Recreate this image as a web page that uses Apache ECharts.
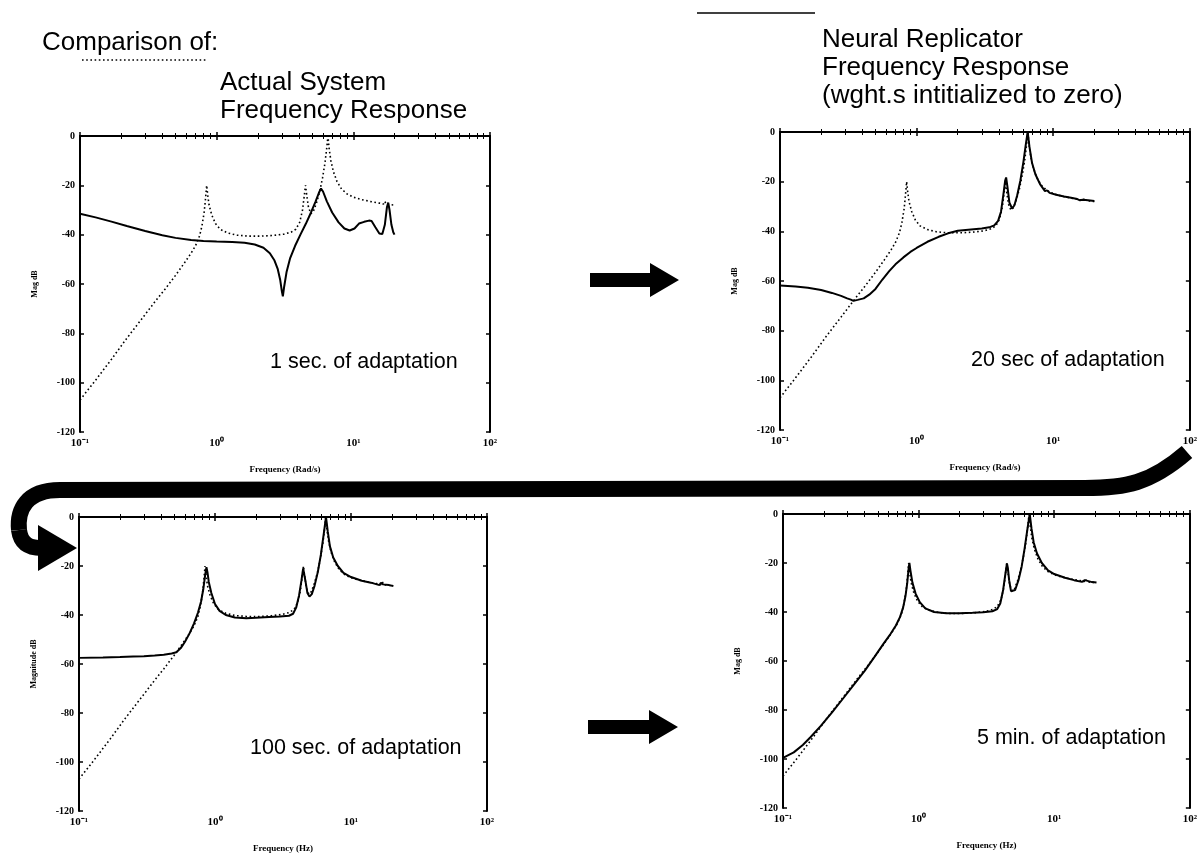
<!DOCTYPE html>
<html>
<head>
<meta charset="utf-8">
<script src="https://cdn.jsdelivr.net/npm/echarts@6/dist/echarts.min.js"></script>
<style>
  html, body { margin: 0; padding: 0; background: #fff; }
  #chart { width: 1200px; height: 854px; }
</style>
</head>
<body>
<div id="chart"></div>
<script>
// Frequency axis range (log) and magnitude axis range
const freqRange = [0.1, 100];
const magRange = [-120, 0];

// Actual system frequency response: [frequency, magnitude dB]
const actualSystem = [
  [0.1,-107],[0.13,-99],[0.17,-90.5],[0.22,-82],[0.28,-74.5],[0.35,-67.5],[0.42,-62],
  [0.5,-56.5],[0.58,-51.5],[0.65,-47.5],[0.7,-44.5],[0.75,-40.5],[0.78,-36.5],[0.81,-31],
  [0.83,-25],[0.845,-20],[0.86,-24],[0.88,-28],[0.92,-32],[0.98,-35.5],[1.06,-37.8],
  [1.2,-39.3],[1.4,-40.2],[1.7,-40.6],[2.1,-40.6],[2.6,-40.3],[3.1,-39.8],[3.5,-39],
  [3.8,-37.8],[4.05,-35],[4.25,-30],[4.38,-24],[4.47,-20],[4.56,-24],[4.7,-29],[4.9,-31.5],
  [5.1,-30.5],[5.35,-27.5],[5.65,-23],[5.95,-17],[6.2,-11],[6.4,-4.5],[6.52,0],[6.65,-5],
  [6.85,-10],[7.15,-14.5],[7.6,-18.5],[8.2,-21.5],[9,-23.5],[10,-24.8],[11.5,-25.8],
  [13.5,-26.6],[15.5,-27.2],[16.6,-27.6],[17,-26.5],[17.4,-27.7],[18.5,-27.8],[20,-28]
];

// Neural replicator response after 1 s of adaptation
const replicator1s = [
  [0.1,-31.5],[0.13,-33],[0.17,-34.7],[0.22,-36.5],[0.3,-38.5],[0.4,-40.2],[0.5,-41.3],
  [0.65,-42.2],[0.8,-42.6],[1.0,-42.8],[1.3,-43],[1.6,-43.3],[1.9,-44],[2.2,-45.3],
  [2.45,-47.5],[2.65,-50.5],[2.8,-54],[2.92,-58.5],[3.0,-63],[3.05,-65],[3.12,-61],
  [3.25,-55],[3.45,-49.5],[3.75,-44.5],[4.1,-40],[4.5,-35.5],[4.9,-31],[5.3,-26.5],
  [5.6,-23],[5.8,-21.3],[6.0,-22.5],[6.4,-26.5],[7.0,-31],[7.8,-35],[8.6,-37.5],[9.4,-38.3],
  [10.2,-37.5],[11,-35.5],[12,-34.8],[13,-34.3],[13.6,-34.5],[14.5,-37],[15.5,-39.5],
  [16.3,-39.7],[17,-36],[17.6,-29],[18,-27],[18.4,-30],[19,-36],[19.6,-39],[20,-40]
];

// After 20 s of adaptation
const replicator20s = [
  [0.1,-61.8],[0.13,-62.2],[0.16,-62.7],[0.2,-63.6],[0.24,-64.8],[0.28,-66],[0.31,-67],
  [0.33,-67.5],[0.345,-68],[0.37,-67.6],[0.41,-67],[0.45,-65.5],[0.5,-63.2],[0.56,-59.5],
  [0.63,-56],[0.7,-53.3],[0.8,-50.5],[0.9,-48.3],[1.0,-46.7],[1.2,-44.2],[1.45,-42.2],
  [1.7,-40.8],[2.0,-39.8],[2.5,-39.3],[3.0,-38.9],[3.4,-38.4],[3.7,-37.6],[3.95,-35.8],
  [4.15,-32],[4.32,-25],[4.45,-19.5],[4.52,-18.3],[4.62,-22],[4.78,-28.5],[5.0,-30.8],
  [5.2,-29.5],[5.45,-25.5],[5.75,-19.5],[6.05,-12],[6.3,-5],[6.5,0],[6.7,-6],[7.0,-12.5],
  [7.4,-17],[8.0,-21],[8.7,-23.8],[9,-23.5],[9.4,-24.5],[10.5,-25.3],[12,-26],[13.5,-26.5],
  [15,-27],[15.7,-27.5],[16,-26.8],[16.4,-27.3],[18,-27.5],[20,-27.8]
];

// After 100 s of adaptation
const replicator100s = [
  [0.1,-57.5],[0.15,-57.3],[0.2,-57.1],[0.25,-56.9],[0.3,-56.8],[0.36,-56.5],[0.42,-56.2],
  [0.48,-55.7],[0.52,-55.2],[0.56,-53.5],[0.6,-51],[0.65,-47.5],[0.7,-43.5],[0.75,-39],
  [0.79,-34.5],[0.82,-29.5],[0.845,-24],[0.865,-20.5],[0.88,-22.5],[0.9,-26.5],[0.94,-31],
  [1.0,-35.5],[1.08,-38.3],[1.2,-40],[1.4,-41],[1.7,-41.3],[2.0,-41.1],[2.5,-40.8],
  [3.0,-40.6],[3.5,-40.3],[3.75,-39.5],[3.95,-37],[4.15,-32],[4.32,-26],[4.45,-21],
  [4.52,-21.8],[4.62,-26],[4.78,-31],[4.95,-32.5],[5.15,-31.5],[5.4,-28],[5.7,-22.5],
  [6.0,-15.5],[6.3,-7],[6.55,0],[6.75,-6],[7.0,-12],[7.4,-16.5],[8.0,-20],[8.8,-22.8],
  [10,-24.5],[12,-26],[14,-26.8],[16.2,-27.8],[16.6,-26.8],[17.2,-27.5],[19,-27.8],[20.5,-28.2]
];

// After 5 min of adaptation
const replicator5min = [
  [0.1,-99.5],[0.12,-97.3],[0.14,-94.3],[0.16,-91],[0.19,-86.5],[0.23,-81],[0.28,-75],
  [0.34,-69],[0.4,-64],[0.47,-58.5],[0.55,-53],[0.62,-49],[0.68,-45.5],[0.73,-42],
  [0.77,-38],[0.8,-33.5],[0.825,-28],[0.845,-22],[0.855,-20],[0.87,-23],[0.9,-28],
  [0.95,-32.5],[1.02,-36],[1.12,-38.5],[1.3,-40],[1.6,-40.5],[2.0,-40.5],[2.5,-40.3],
  [3.0,-40.1],[3.5,-39.7],[3.8,-38.8],[4.0,-36.5],[4.2,-31],[4.35,-25],[4.48,-20.2],
  [4.55,-22],[4.65,-27],[4.8,-31.5],[4.95,-32.3],[5.15,-31],[5.45,-27],[5.75,-21.5],
  [6.05,-14],[6.35,-6],[6.6,0],[6.8,-6],[7.05,-11.5],[7.45,-16],[8.1,-20],[9,-23],
  [10,-24.5],[12,-26],[14,-27],[16,-27.7],[16.4,-27.8],[16.8,-27],[17.3,-27.5],[19,-27.8],[20.5,-28]
];

const panelNotes = ['1 sec. of adaptation', '20 sec of adaptation', '100 sec. of adaptation', '5 min. of adaptation'];
const freqNames = ['Frequency (Rad/s)', 'Frequency (Rad/s)', 'Frequency (Hz)', 'Frequency (Hz)'];
const magNames = ['Mag dB', 'Mag dB', 'Magnitude dB', 'Mag dB'];
const replicas = [replicator1s, replicator20s, replicator100s, replicator5min];

const grids = [
  { left: 80,  top: 136, width: 410, height: 296 },
  { left: 780, top: 132, width: 413, height: 298 },
  { left: 79,  top: 517, width: 408, height: 296 },
  { left: 783, top: 514, width: 412, height: 294 }
];
const notePos = [[270, 362], [971, 360], [250, 748], [977, 738]];

const SUP = { '-': '\u207B', '0': '\u2070', '1': '\u00B9', '2': '\u00B2', '3': '\u00B3' };
const powLabel = v => '10' + String(Math.round(Math.log10(v))).split('').map(c => SUP[c] || c).join('');

const axisFont = { fontFamily: 'Liberation Serif', fontWeight: 'bold', color: '#000' };
const lineBlack = { lineStyle: { color: '#000', width: 2 } };

const xAxes = [], yAxes = [], series = [];
grids.forEach((g, i) => {
  const baseX = {
    type: 'log', logBase: 10, gridIndex: i, min: freqRange[0], max: freqRange[1],
    axisLine: lineBlack, splitLine: { show: false },
    axisTick: { inside: true, length: 4, lineStyle: { color: '#000', width: 1.5 } },
    minorTick: { show: true, splitNumber: 9, length: 3, lineStyle: { color: '#000', width: 1 } }
  };
  xAxes.push(Object.assign({}, baseX, {
    position: 'bottom',
    name: freqNames[i], nameLocation: 'middle', nameGap: 33,
    nameTextStyle: Object.assign({ fontSize: 9 }, axisFont),
    axisLabel: Object.assign({ fontSize: 11, margin: 6, formatter: powLabel }, axisFont)
  }));
  xAxes.push(Object.assign({}, baseX, { position: 'top', axisLabel: { show: false } }));

  const baseY = {
    type: 'value', gridIndex: i, min: magRange[0], max: magRange[1], interval: 20,
    axisLine: lineBlack, splitLine: { show: false },
    axisTick: { inside: true, length: 4, lineStyle: { color: '#000', width: 1.5 } }
  };
  yAxes.push(Object.assign({}, baseY, {
    position: 'left',
    name: magNames[i], nameLocation: 'middle', nameGap: 41, nameRotate: 90,
    nameTextStyle: Object.assign({ fontSize: 8 }, axisFont),
    axisLabel: Object.assign({ fontSize: 10, margin: 5 }, axisFont)
  }));
  yAxes.push(Object.assign({}, baseY, { position: 'right', axisLabel: { show: false } }));

  series.push({
    name: 'Actual System', type: 'line', xAxisIndex: 2 * i, yAxisIndex: 2 * i,
    data: actualSystem, symbol: 'none', z: 2,
    lineStyle: { color: '#000', width: 1.6, type: [1.6, 2.6] }
  });
  series.push({
    name: 'Neural Replicator', type: 'line', xAxisIndex: 2 * i, yAxisIndex: 2 * i,
    data: replicas[i], symbol: 'none', z: 3,
    lineStyle: { color: '#000', width: 2 }
  });
});

const headFont = '"Liberation Sans", Arial, sans-serif';
const textEl = (text, x, y, size) => ({
  type: 'text', x, y, silent: true,
  style: { text, fontSize: size, fontFamily: headFont, fill: '#000', verticalAlign: 'alphabetic' }
});
const band = { stroke: '#000', lineWidth: 16, lineCap: 'butt', fill: 'none' };

const graphic = [
  // heading and legend
  textEl('Comparison of:', 42, 30, 26),
  { type: 'line', shape: { x1: 82, y1: 60, x2: 207, y2: 60 },
    style: { stroke: '#000', lineWidth: 1.6, lineDash: [1.6, 2.6] } },
  textEl('Actual System', 220, 70, 26),
  textEl('Frequency Response', 220, 98, 26),
  { type: 'line', shape: { x1: 697, y1: 13, x2: 815, y2: 13 },
    style: { stroke: '#000', lineWidth: 1.6 } },
  textEl('Neural Replicator', 822, 27, 26),
  textEl('Frequency Response', 822, 55, 26),
  textEl('(wght.s intitialized to zero)', 822, 83, 26),
  // straight arrows between panels
  { type: 'polygon', shape: { points: [[590, 273], [650, 273], [650, 263], [679, 280], [650, 297], [650, 287], [590, 287]] },
    style: { fill: '#000' } },
  { type: 'polygon', shape: { points: [[588, 720], [649, 720], [649, 710], [678, 727], [649, 744], [649, 734], [588, 734]] },
    style: { fill: '#000' } },
  // curved arrow from the top-right panel round to the bottom-left panel
  { type: 'bezierCurve', silent: true,
    shape: { x1: 1187, y1: 452, cpx1: 1150, cpy1: 484, cpx2: 1125, cpy2: 488, x2: 1085, y2: 488 }, style: band },
  { type: 'line', silent: true, shape: { x1: 1085, y1: 488, x2: 60, y2: 490 }, style: band },
  { type: 'bezierCurve', silent: true,
    shape: { x1: 60, y1: 490, cpx1: 26, cpy1: 490, cpx2: 17, cpy2: 510, x2: 19, y2: 530 }, style: band },
  { type: 'bezierCurve', silent: true,
    shape: { x1: 19, y1: 530, cpx1: 21, cpy1: 545, cpx2: 30, cpy2: 548, x2: 42, y2: 548 }, style: band },
  { type: 'polygon', shape: { points: [[38, 525], [77, 548], [38, 571]] }, style: { fill: '#000' } }
];
panelNotes.forEach((t, i) => {
  graphic.push({ type: 'text', x: notePos[i][0], y: notePos[i][1], silent: true,
    style: { text: t, fontSize: 21.5, fontFamily: headFont, fill: '#000', verticalAlign: 'middle' } });
});

const chart = echarts.init(document.getElementById('chart'), null, { renderer: 'canvas' });
chart.setOption({
  animation: false,
  backgroundColor: '#fff',
  grid: grids,
  xAxis: xAxes,
  yAxis: yAxes,
  series,
  graphic
});
</script>
</body>
</html>
